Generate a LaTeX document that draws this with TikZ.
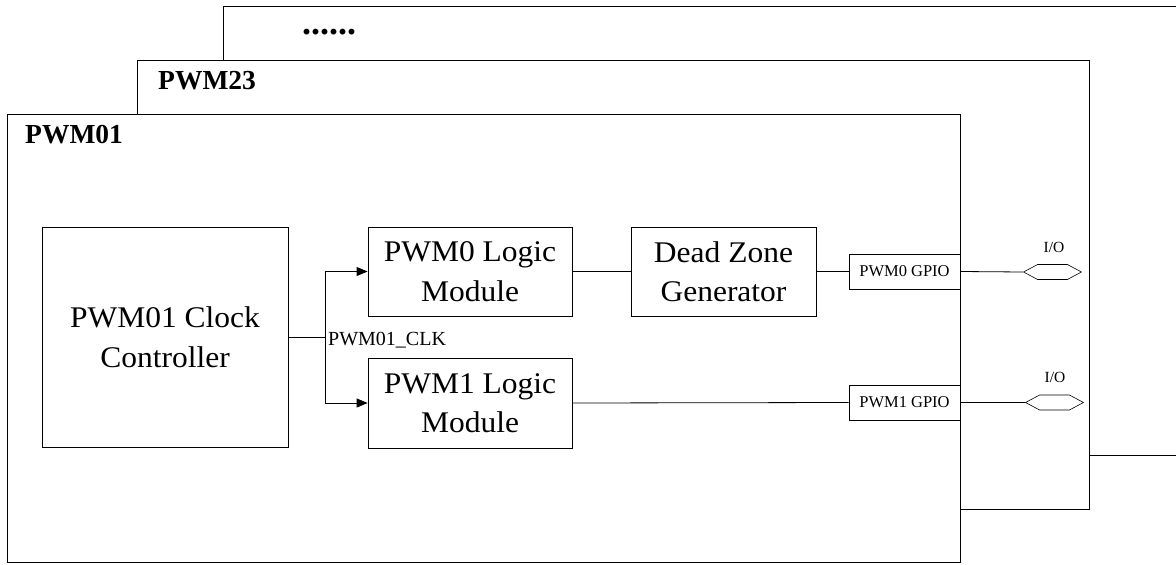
\documentclass[tikz,border=0pt]{standalone}
\usepackage{fontspec}
\setmainfont{Liberation Serif}
\usetikzlibrary{arrows.meta,shapes.symbols}
\newfontfamily\bigfont[FakeStretch=1.05]{Liberation Serif}
\tikzset{
  frame/.style={draw, line width=0.8pt, fill=white, anchor=north west, inner sep=0pt},
  blk/.style={draw, line width=0.8pt, inner sep=0pt, align=center, font=\bigfont\fontsize{30}{39.5}\selectfont},
  gpio/.style={draw, line width=0.8pt, inner sep=0pt, minimum width=111pt, minimum height=35pt, font=\fontsize{16.5}{18}\selectfont},
  hexio/.style={draw, line width=0.6pt, signal, signal to=west and east, signal pointer angle=56, minimum width=58pt, minimum height=15pt, inner sep=0pt},
  wire/.style={line width=0.8pt},
  arr/.style={line width=0.8pt, -{Triangle[length=11pt,width=9pt]}},
  title/.style={font=\bfseries\fontsize{27.5}{30}\selectfont, anchor=base west, inner sep=0pt},
  small/.style={font=\fontsize{15.5}{17}\selectfont, inner sep=0pt}
}
\begin{document}
\begin{tikzpicture}[x=1pt,y=-1pt]
\useasboundingbox (0,0) rectangle (1176,565);
\clip (0,0) rectangle (1176,565);
% stacked frames
\node[frame, minimum width=1000pt, minimum height=449pt] (f3) at (223,6) {};
\node[frame, minimum width=952pt, minimum height=449pt] (f2) at (137,60) {};
\node[frame, minimum width=953pt, minimum height=448pt] (f1) at (7,114) {};
\node[font=\bfseries\fontsize{36}{36}\selectfont, inner sep=0pt, anchor=base west] (dots) at (302,34) {......};
\node[title] (t2) at (158,89) {PWM23};
\node[title] (t1) at (25,143) {PWM01};
% blocks
\node[blk, minimum width=246pt, minimum height=220pt] (clk) at (165,337) {PWM01 Clock\\Controller};
\node[blk, minimum width=204pt, minimum height=89pt] (l0) at (470,271.5) {PWM0 Logic\\Module};
\node[blk, minimum width=204pt, minimum height=90pt] (l1) at (470,403) {PWM1 Logic\\Module};
\node[blk, minimum width=185pt, minimum height=89pt] (dz) at (723.5,271.5) {Dead Zone\\Generator};
\node[gpio] (g0) at (904.5,271.5) {PWM0 GPIO};
\node[gpio] (g1) at (904.5,402.5) {PWM1 GPIO};
\node[hexio] (h0) at (1052.5,272) {};
\node[hexio] (h1) at (1054.5,402.5) {};
\node[small] (io0) at (1054,247) {I/O};
\node[small] (io1) at (1055,377) {I/O};
% connectors
\coordinate (jn) at (325,337);
\draw[wire] (clk.east) -- (jn);
\draw[arr] (jn) |- (l0.west);
\draw[arr] (jn) |- (l1.west);
\node[font=\fontsize{20}{22}\selectfont, inner sep=0pt, anchor=base west] (clklbl) at (328,345) {PWM01\_CLK};
\draw[wire] (l0.east) -- (dz.west);
\draw[wire] (dz.east) -- (g0.west);
\draw[wire] (l1.east) -- (g1.west);
\draw[wire] (g0.east) -- (h0.west);
\draw[wire] (g1.east) -- (h1.west);
\end{tikzpicture}
\end{document}
